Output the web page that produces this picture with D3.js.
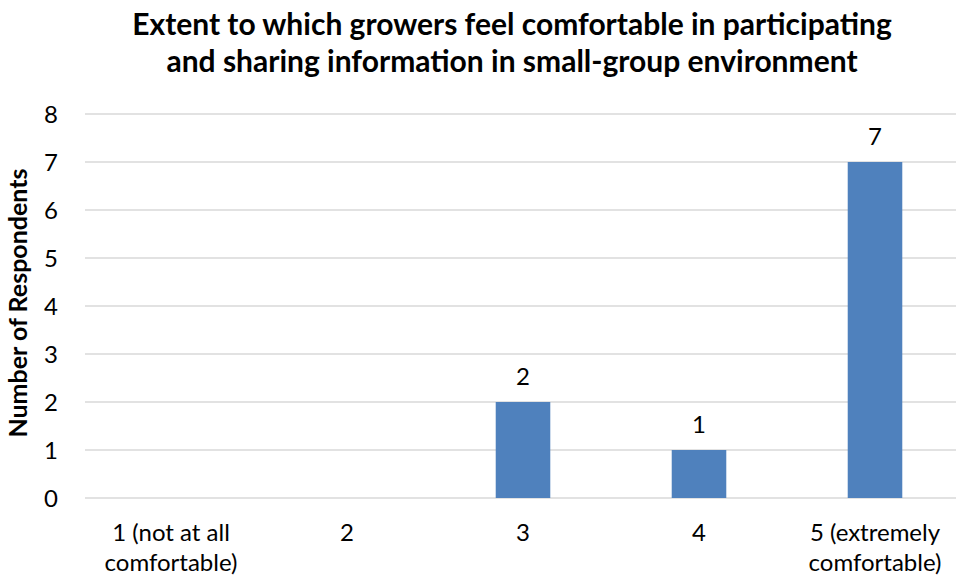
<!DOCTYPE html>
<html>
<head>
<meta charset="utf-8">
<script src="https://cdn.jsdelivr.net/npm/d3@7"></script>
<style>
  body { margin: 0; background: #fff; }
  text { font-family: Lato, "Open Sans", sans-serif; fill: #000; }
</style>
</head>
<body>
<script>
const categories = [["1 (not at all", "comfortable)"], ["2"], ["3"], ["4"], ["5 (extremely", "comfortable)"]];
const values = [0, 0, 2, 1, 7];
const yTicks = [0, 1, 2, 3, 4, 5, 6, 7, 8];
const titleLines = ["Extent to which growers feel comfortable in participating", "and sharing information in small-group environment"];
const yTitle = "Number of Respondents";

const width = 956, height = 580;

const svg = d3.select("body").append("svg")
    .attr("width", width)
    .attr("height", height);

const x = d3.scaleBand()
    .domain(d3.range(categories.length))
    .range([83, 963])
    .paddingInner(0.69)
    .paddingOuter(0.345);

const y = d3.scaleLinear()
    .domain([0, 8])
    .range([498, 114]);

// gridlines
svg.append("g")
    .selectAll("line")
    .data(yTicks)
    .join("line")
    .attr("x1", 85)
    .attr("x2", width)
    .attr("y1", d => y(d))
    .attr("y2", d => y(d))
    .attr("stroke", "#d9d9d9")
    .attr("stroke-width", 1.3);

// y tick labels
svg.append("g")
    .selectAll("text")
    .data(yTicks)
    .join("text")
    .attr("x", 51)
    .attr("y", d => y(d) + 8.5)
    .attr("text-anchor", "middle")
    .attr("font-size", 24)
    .text(d => d);

// bars
svg.append("g")
    .selectAll("rect")
    .data(values)
    .join("rect")
    .attr("x", (d, i) => x(i))
    .attr("width", x.bandwidth())
    .attr("y", d => y(d))
    .attr("height", d => y(0) - y(d))
    .attr("fill", "#4f81bd");

// value labels
svg.append("g")
    .selectAll("text")
    .data(values.map((v, i) => ({ v, i })).filter(d => d.v > 0))
    .join("text")
    .attr("x", d => x(d.i) + x.bandwidth() / 2)
    .attr("y", d => y(d.v) - 17)
    .attr("text-anchor", "middle")
    .attr("font-size", 24)
    .text(d => d.v);

// category labels
const cat = svg.append("g")
    .selectAll("text")
    .data(categories)
    .join("text")
    .attr("text-anchor", "middle")
    .attr("font-size", 24)
    .attr("x", (d, i) => x(i) + x.bandwidth() / 2)
    .attr("y", 541);
cat.selectAll("tspan")
    .data(d => d)
    .join("tspan")
    .attr("x", function () { return d3.select(this.parentNode).attr("x"); })
    .attr("dy", (d, i) => i === 0 ? 0 : 30)
    .text(d => d);

// y axis title
svg.append("text")
    .attr("transform", "translate(27,303) rotate(-90)")
    .attr("text-anchor", "middle")
    .attr("font-size", 25)
    .attr("font-weight", "bold")
    .text(yTitle);

// chart title
svg.append("g")
    .selectAll("text")
    .data(titleLines)
    .join("text")
    .attr("x", 512)
    .attr("y", (d, i) => 35 + i * 37)
    .attr("text-anchor", "middle")
    .attr("font-size", 30)
    .attr("font-weight", "bold")
    .text(d => d);
</script>
</body>
</html>
